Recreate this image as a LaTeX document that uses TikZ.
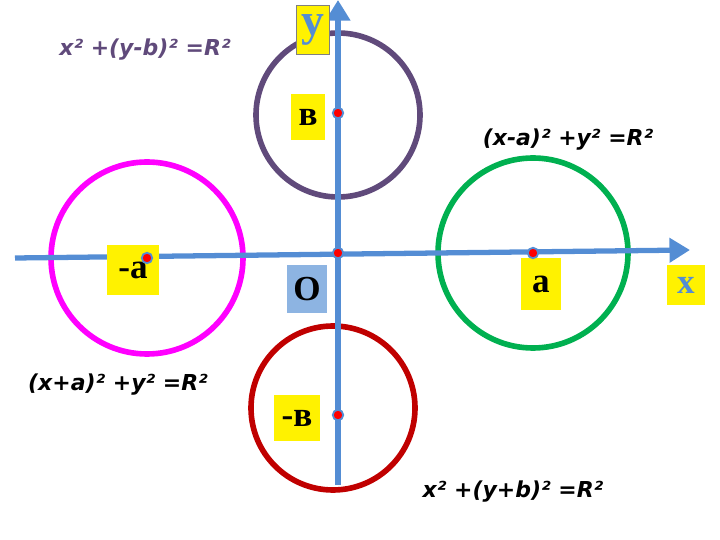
\documentclass[tikz,border=0pt]{standalone}
\usepackage{fontspec}
\setmainfont{Liberation Serif}
\newfontfamily\eqfont{DejaVu Sans}
\usetikzlibrary{arrows.meta}
\definecolor{axisblue}{RGB}{84,141,212}
\definecolor{purp}{RGB}{96,74,123}
\definecolor{grn}{RGB}{0,176,80}
\definecolor{mag}{RGB}{255,0,255}
\definecolor{darkred}{RGB}{192,0,0}
\definecolor{lblue}{RGB}{141,180,226}
\tikzset{>=Triangle}
\newcommand*{\eq}[1]{{\eqfont\bfseries\itshape\fontsize{12.5}{15}\selectfont #1}}

\begin{document}
\begin{tikzpicture}[x=0.02cm,y=-0.02cm]
\useasboundingbox (0,0) rectangle (720,540);
\tikzset{lbl/.style={fill=yellow,font=\bfseries\fontsize{20}{22}\selectfont,inner sep=1pt},
  pt/.style={circle,fill=red,draw=axisblue,line width=1pt,inner sep=0pt,minimum size=6pt}}
% Circles
\draw[purp,line width=3.2pt] (338,115) circle[radius=82];
\draw[grn,line width=3.2pt] (533,253) circle[radius=95];
\draw[mag,line width=3.2pt] (147,258) circle[radius=96];
\draw[darkred,line width=3.2pt] (333,408) circle[radius=82];
% Axes
\draw[axisblue,line width=3pt,->] (15,258) -- (690,250);
\draw[axisblue,line width=3pt,->] (338,485) -- (338,0);
% Labels
\node[lbl,minimum width=19pt,minimum height=28pt,draw=gray,text=axisblue,font=\bfseries\fontsize{26}{26}\selectfont] (ylbl) at (313,30) {у};
\node[lbl,minimum width=19pt,minimum height=26pt] (blbl) at (308,117) {в};
\node[lbl,minimum width=30pt,minimum height=28pt] (malbl) at (133,270) {-а};
\node[lbl,fill=lblue,minimum width=23pt,minimum height=27pt] (olbl) at (307,289) {О};
\node[lbl,minimum width=23pt,minimum height=30pt] (albl) at (541,284) {а};
\node[lbl,text=axisblue,minimum width=22pt,minimum height=23pt] (xlbl) at (686,285) {х};
\node[lbl,minimum width=26pt,minimum height=26pt] (mblbl) at (297,418) {-в};
% Points
\node[pt] (o) at (338,253) {};
\node[pt] (b) at (338,113) {};
\node[pt] (mb) at (338,415) {};
\node[pt] (a) at (533,253) {};
\node[pt] (ma) at (147,258) {};
% Equations
\node[text=purp] (eqb) at (145,50) {\eq{x² +(y-b)² =R²}};
\node (eqa) at (568,140) {\eq{(x-a)² +y² =R²}};
\node (eqma) at (118,385) {\eq{(x+a)² +y² =R²}};
\node (eqmb) at (513,492) {\eq{x² +(y+b)² =R²}};
\end{tikzpicture}
\end{document}
